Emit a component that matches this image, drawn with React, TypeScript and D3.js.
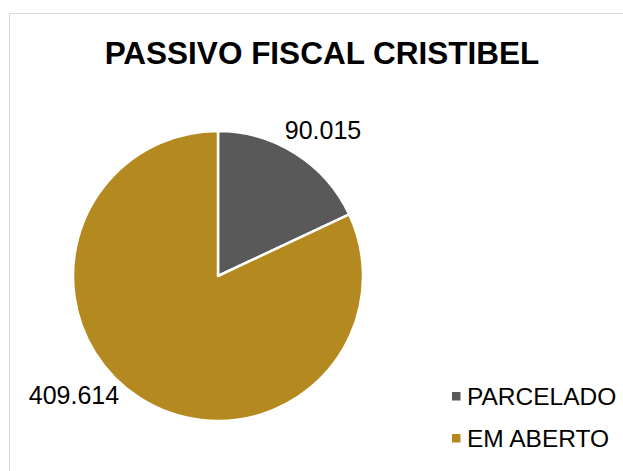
import React, { useEffect, useRef } from 'react'
import * as d3 from 'd3'

const categories = ['PARCELADO', 'EM ABERTO']
const values = [90015, 409614]
const valueLabels = ['90.015', '409.614']
const colors = ['#595959', '#B4891F']

const W = 623, H = 471

const App = () => {
  const ref = useRef<SVGSVGElement>(null)

  useEffect(() => {
    const svg = d3.select(ref.current)
    svg.selectAll('*').remove()

    // chart frame
    svg.append('rect')
      .attr('x', 9.5).attr('y', 13.5)
      .attr('width', W + 10).attr('height', H + 10)
      .attr('fill', '#fff')
      .attr('stroke', '#d9d9d9')

    svg.append('text')
      .attr('x', 322).attr('y', 64)
      .attr('text-anchor', 'middle')
      .style('font-family', 'Liberation Sans, Arial, sans-serif')
      .style('font-weight', 'bold')
      .style('font-size', '31.5px')
      .text('PASSIVO FISCAL CRISTIBEL')

    const cx = 218, cy = 276, r = 145
    const data = categories.map((c, i) => ({ c, v: values[i], label: valueLabels[i], color: colors[i] }))

    const pie = d3.pie<any>().sort(null).value(d => d.v)
    const arc = d3.arc<any>().innerRadius(0).outerRadius(r)
    const arcs = pie(data)

    const g = svg.append('g').attr('transform', `translate(${cx},${cy})`)
    g.selectAll('path')
      .data(arcs)
      .join('path')
      .attr('d', arc)
      .attr('fill', d => d.data.color)
      .attr('stroke', '#fff')
      .attr('stroke-width', 2.5)
      .attr('stroke-linejoin', 'round')

    // outside-end labels (baseline positions)
    const labelArc = d3.arc<any>().innerRadius(r + 35).outerRadius(r + 35)
    const offsets = [[8.5, 15], [-47.5, -24]]
    g.selectAll('text.val')
      .data(arcs)
      .join('text')
      .attr('class', 'val')
      .attr('transform', (d, i) => {
        const [x, y] = labelArc.centroid(d)
        return `translate(${x + offsets[i][0]},${y + offsets[i][1]})`
      })
      .attr('text-anchor', 'middle')
      .style('font-family', 'Liberation Sans, Arial, sans-serif')
      .style('font-size', '25px')
      .text(d => d.data.label)

    const legend = svg.append('g')
    const ly = d3.scalePoint<string>().domain(categories).range([405, 447])
    legend.selectAll('rect')
      .data(data)
      .join('rect')
      .attr('x', 452).attr('y', d => ly(d.c)! - 13)
      .attr('width', 8.5).attr('height', 8.5)
      .attr('fill', d => d.color)
    legend.selectAll('text')
      .data(data)
      .join('text')
      .attr('x', 467).attr('y', d => ly(d.c)!)
      .style('font-family', 'Liberation Sans, Arial, sans-serif')
      .style('font-size', '24.5px')
      .text(d => d.c)
  }, [])

  return (
    <svg ref={ref} width={W} height={H} style={{ position: 'absolute', left: 0, top: 0 }} />
  )
}

export default App
